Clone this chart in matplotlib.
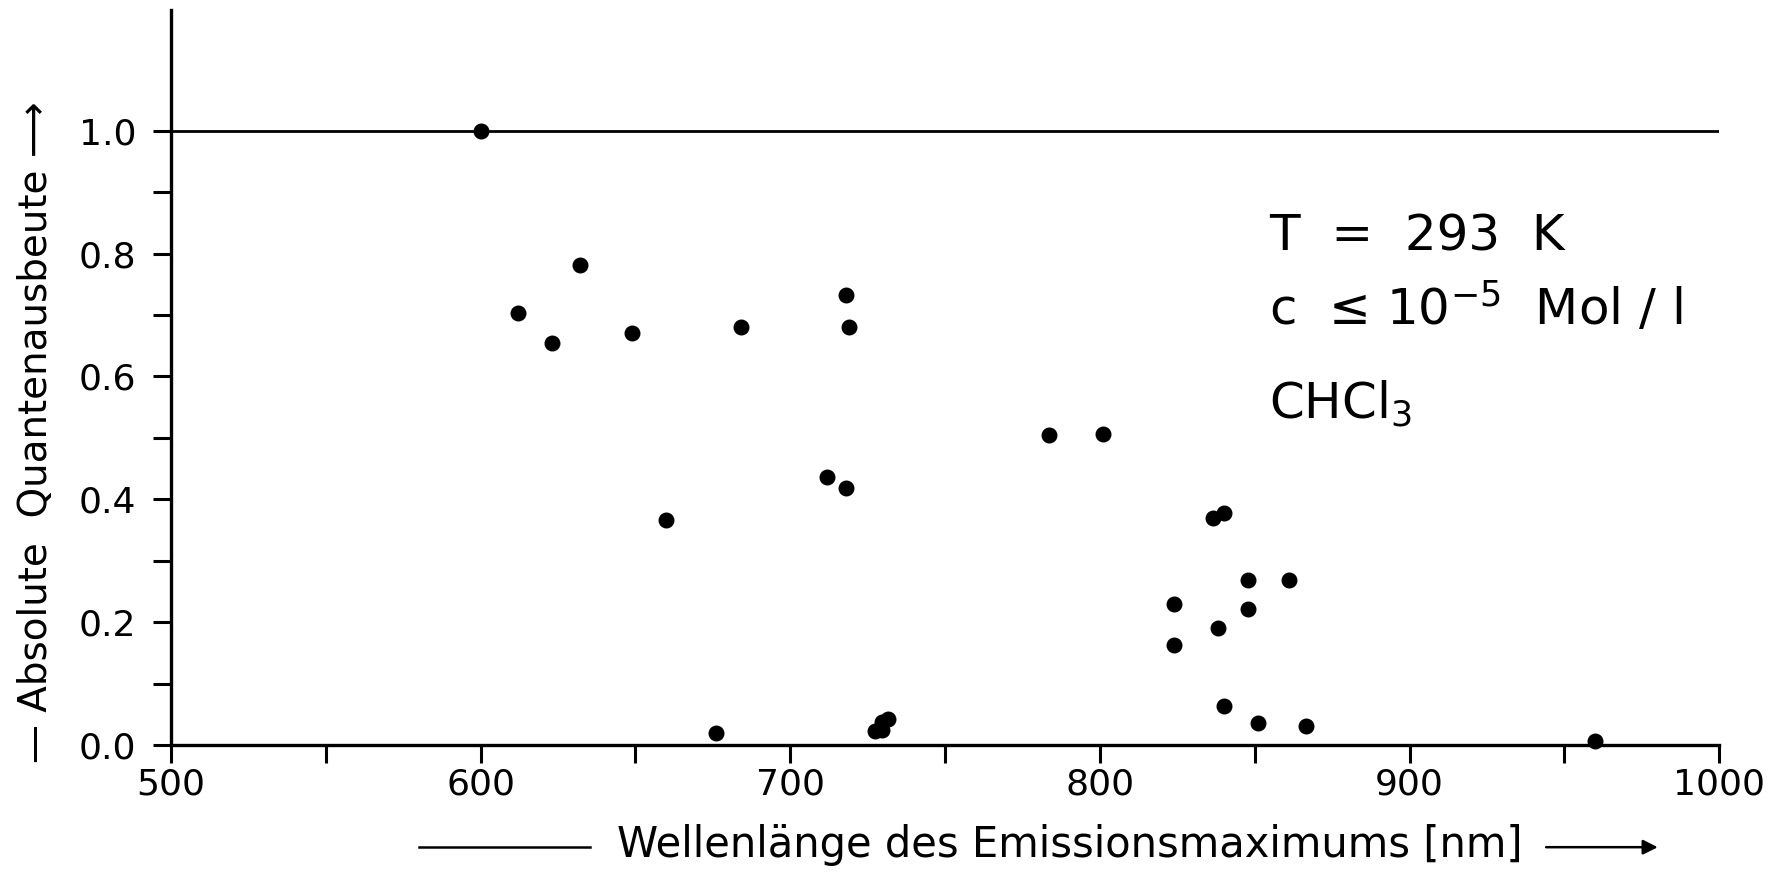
import matplotlib
matplotlib.use("Agg")
import matplotlib.pyplot as plt
from matplotlib.lines import Line2D

# données
wellenlaenge = [600, 612, 623, 632, 649, 660, 676, 684, 712, 718, 718, 719,
                727.5, 729.5, 729.5, 731.5, 783.5, 801, 824, 824, 836.5, 840,
                838, 840, 848, 848, 851, 861, 866.5, 960]
quantenausbeute = [1.0, 0.703, 0.654, 0.781, 0.670, 0.367, 0.020, 0.681, 0.437,
                   0.732, 0.418, 0.681, 0.023, 0.024, 0.038, 0.042, 0.505, 0.507,
                   0.229, 0.162, 0.370, 0.378, 0.190, 0.063, 0.269, 0.221, 0.036,
                   0.269, 0.031, 0.006]
x_ticks = [500, 600, 700, 800, 900, 1000]
y_ticks = [0.0, 0.2, 0.4, 0.6, 0.8, 1.0]

plt.rcParams['font.family'] = ['DejaVu Sans']
plt.rcParams['mathtext.default'] = 'regular'

fig = plt.figure(figsize=(17.76, 8.77), dpi=100)
ax = fig.add_axes([0.0962, 0.1505, 0.8718, 0.8385])

ax.scatter(wellenlaenge, quantenausbeute, s=110, color='black', zorder=3, clip_on=False)
ax.axhline(1.0, color='black', linewidth=2)

ax.set_xlim(500, 1000)
ax.set_ylim(0, 1.197)
ax.set_xticks(x_ticks)
ax.set_xticks([550, 650, 750, 850, 950], minor=True)
ax.set_yticks(y_ticks)
ax.set_yticks([0.1, 0.3, 0.5, 0.7, 0.9], minor=True)
ax.set_yticklabels(['%.1f' % v for v in y_ticks])

for side in ['top', 'right']:
    ax.spines[side].set_visible(False)
for side in ['left', 'bottom']:
    ax.spines[side].set_linewidth(2.4)

ax.tick_params(which='both', direction='out', length=13, width=2.2, colors='black')
ax.tick_params(axis='y', which='major', labelsize=26, pad=12)
ax.tick_params(axis='x', which='major', labelsize=26, pad=3)

ax.set_ylabel('\u2014 Absolute  Quantenausbeute \u27f6', fontsize=28)
ax.yaxis.set_label_coords(-0.075, 0.426)

# légende de l'axe des abscisses avec traits
fig.text(0.6025, 0.036, 'Wellenlänge des Emissionsmaximums [nm]', fontsize=30,
         ha='center', va='center')
fig.add_artist(Line2D([0.236, 0.332], [0.034, 0.034], color='black', linewidth=1.8))
ax.annotate('', xy=(0.935, 0.034), xytext=(0.869, 0.034), xycoords='figure fraction',
            textcoords='figure fraction',
            arrowprops=dict(arrowstyle='-|>', color='black', lw=1.8, mutation_scale=22))

# conditions de mesure
fig.text(0.7145, 0.714, 'T  =  293  K', fontsize=36, va='baseline')
fig.text(0.7145, 0.629, 'c  \u2264 10$^{-5}$  Mol / l', fontsize=36, va='baseline')
fig.text(0.7145, 0.523, 'CHCl$_3$', fontsize=36, va='baseline')

plt.savefig('out.png', dpi=100)
